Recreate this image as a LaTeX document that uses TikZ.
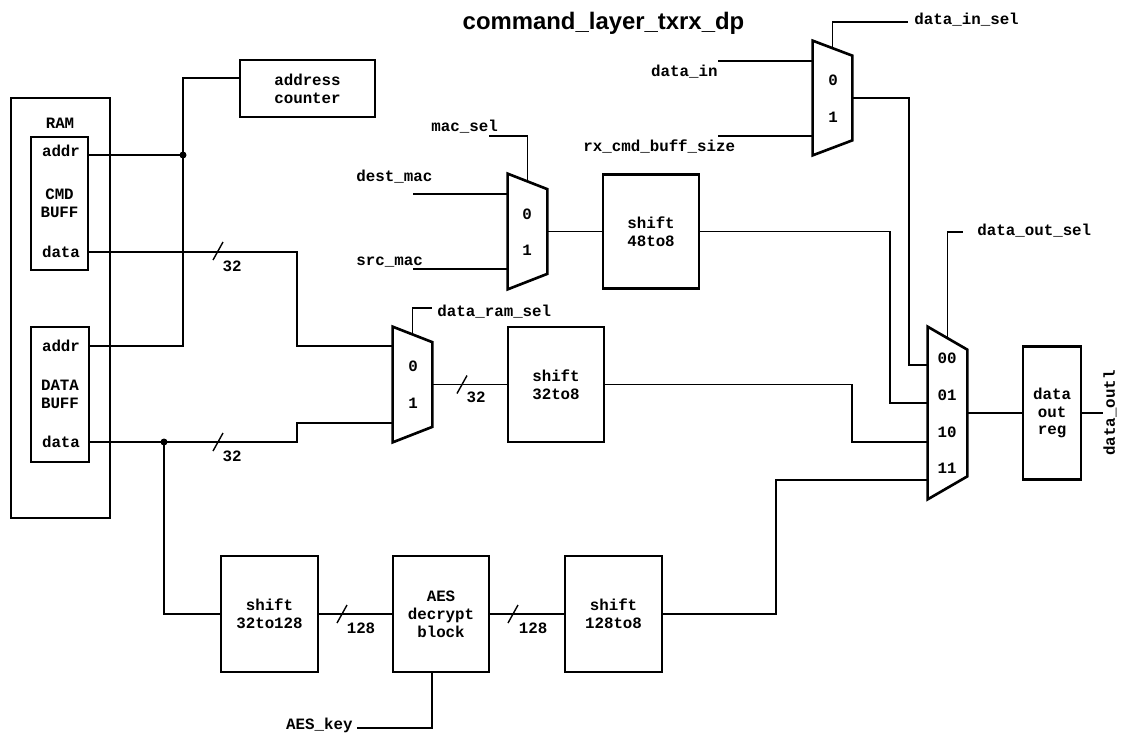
\documentclass[tikz,border=0pt]{standalone}
\usepackage{fontspec}
\setmainfont{Liberation Sans}
\setmonofont{Liberation Mono}
\usepackage{tikz}
\newcommand{\sigfont}{\ttfamily\bfseries\fontsize{9pt}{10.2pt}\selectfont}

\begin{document}
\begin{tikzpicture}[
  x=0.02cm, y=-0.02cm,
  box/.style={draw,line width=1.4pt,align=center,inner sep=0pt,font=\sigfont},
  muxbody/.style={inner sep=0pt,minimum width=0.78cm,minimum height=2.3cm},
  muxline/.style={line width=1.5pt,line join=miter},
  wire/.style={line width=0.8pt},
  lbl/.style={inner sep=0pt,font=\sigfont},
  jdot/.style={circle,fill,inner sep=0pt,minimum size=0.14cm},
  bus/.pic={\draw[wire] (-5,9) -- (5,-9);}
]
\fill[white] (0,0) rectangle (1121,735);
\useasboundingbox (0,0) rectangle (1121,735);

\node[anchor=base,font=\bfseries\fontsize{13.6pt}{16pt}\selectfont] (title) at (603.5,29) {command\_layer\_txrx\_dp};

\node[box,minimum width=1.98cm,minimum height=8.4cm] (ram) at (60.5,308) {};
\node[lbl] (ramlbl) at (60,123) {RAM};
\node[box,minimum width=1.14cm,minimum height=2.66cm] (cmdbuf) at (59.5,203.5) {CMD\\BUFF};
\node[lbl] (cmdaddr) at (61,151) {addr};
\node[lbl] (cmddata) at (61,252) {data};
\node[box,minimum width=1.16cm,minimum height=2.7cm] (databuf) at (60,394.5) {DATA\\BUFF};
\node[lbl] (dataddr) at (61,346) {addr};
\node[lbl] (datdata) at (61,442) {data};
\node[box,minimum width=2.7cm,minimum height=1.14cm] (cnt) at (307.5,88.5) {address\\counter};

\node[muxbody] (mram) at (412.5,384.5) {};
\draw[muxline] (mram.north west) -- (mram.south west) -- ([yshift=0.31cm]mram.south east) -- ([yshift=-0.31cm]mram.north east) -- cycle;
\node[lbl] (mram0) at (413,366) {0};
\node[lbl] (mram1) at (413,403) {1};
\node[muxbody] (mmac) at (527.5,231.5) {};
\draw[muxline] (mmac.north west) -- (mmac.south west) -- ([yshift=0.31cm]mmac.south east) -- ([yshift=-0.31cm]mmac.north east) -- cycle;
\node[lbl] (mmac0) at (527,214) {0};
\node[lbl] (mmac1) at (527,250) {1};
\node[muxbody,minimum height=2.28cm] (min) at (832.5,98) {};
\draw[muxline] (min.north west) -- (min.south west) -- ([yshift=0.3cm]min.south east) -- ([yshift=-0.3cm]min.north east) -- cycle;
\node[lbl] (min0) at (833,80) {0};
\node[lbl] (min1) at (833,117) {1};
\node[muxbody,minimum height=3.44cm] (mout) at (947.5,413) {};
\draw[muxline] (mout.north west) -- (mout.south west) -- ([yshift=0.46cm]mout.south east) -- ([yshift=-0.46cm]mout.north east) -- cycle;
\node[lbl] (mout00) at (947,358) {00};
\node[lbl] (mout01) at (947,395) {01};
\node[lbl] (mout10) at (947,432) {10};
\node[lbl] (mout11) at (947,468) {11};

\node[box,minimum width=1.92cm,minimum height=2.3cm] (s32to8) at (556,384.5) {shift\\32to8};
\node[box,minimum width=1.92cm,minimum height=2.28cm] (s48to8) at (651,231.5) {shift\\48to8};
\node[box,minimum width=1.16cm,minimum height=2.66cm] (dreg) at (1052,413) {data\\out\\reg};
\node[box,minimum width=1.94cm,minimum height=2.32cm] (s32to128) at (269.5,614) {shift\\32to128};
\node[box,minimum width=1.92cm,minimum height=2.32cm] (aes) at (441,614) {AES\\decrypt\\block};
\node[box,minimum width=1.94cm,minimum height=2.32cm] (s128to8) at (613.5,614) {shift\\128to8};

\coordinate (jcmd) at (183,155);
\coordinate (jdat) at (164,442);
\coordinate (mramin0) at (393,346);
\coordinate (mramin1) at (393,423);
\coordinate (macin0) at (508,194);
\coordinate (macin1) at (508,269);
\coordinate (outin00) at (928,365);
\coordinate (outin01) at (928,403);
\coordinate (outin10) at (928,442);
\coordinate (outin11) at (928,480);
\coordinate (din) at (718,61);
\coordinate (rxc) at (718,136);
\coordinate (dmac) at (413,194);
\coordinate (smac) at (413,269);
\coordinate (selram) at (432,308);
\coordinate (selmac) at (489,136);
\coordinate (selin) at (908,22);
\coordinate (selout) at (963,232);
\coordinate (dout) at (1103,413);
\coordinate (key) at (357,728);

\draw[wire] (cmdbuf.east |- jcmd) -- (jcmd);
\draw[wire] (jcmd) |- ([yshift=0.21cm]cnt.west);
\draw[wire] (jcmd) |- (databuf.east |- 0,346);
\draw[wire] (cmdbuf.east |- 0,252) -- (297,252) |- (mramin0);
\draw[wire] (databuf.east |- jdat) -- (297,442) |- (mramin1);
\draw[wire] (jdat) |- (s32to128.west);
\node[jdot] (dotcmd) at (jcmd) {};
\node[jdot] (dotdat) at (jdat) {};
\pic at (218,251) {bus};
\node[lbl] (w32a) at (232,266) {32};
\pic at (218,442) {bus};
\node[lbl] (w32b) at (232,456) {32};

\draw[wire] ([yshift=-0.15cm]mram.north) |- (selram);
\node[lbl,anchor=base west] (ramsel) at (437,316) {data\_ram\_sel};
\draw[wire] (mram.east) -- (s32to8.west);
\pic at (462,384.5) {bus};
\node[lbl] (w32c) at (476,397) {32};
\draw[wire] (s32to8.east) -- (852,384.5) |- (outin10);

\draw[wire] (dmac) -- (macin0);
\draw[wire] (smac) -- (macin1);
\node[lbl,anchor=base west] (destmac) at (356,181) {dest\_mac};
\node[lbl,anchor=base west] (srcmac) at (356,265) {src\_mac};
\draw[wire] (selmac) -| ([yshift=-0.15cm]mmac.north);
\node[lbl,anchor=base west] (macsel) at (431,131) {mac\_sel};
\draw[wire] (mmac.east) -- (s48to8.west);
\draw[wire] (s48to8.east) -- (890,231.5) |- (outin01);

\draw[wire] (din) -- (min.west |- din);
\draw[wire] (rxc) -- (min.west |- rxc);
\node[lbl,anchor=base east] (datain) at (718,76) {data\_in};
\node[lbl,anchor=base west] (rxsize) at (583,151) {rx\_cmd\_buff\_size};
\draw[wire] ([yshift=-0.15cm]min.north) |- (selin);
\node[lbl,anchor=base west] (insel) at (914,24) {data\_in\_sel};
\draw[wire] (min.east) -- (909,98) |- (outin00);

\draw[wire] ([yshift=-0.23cm]mout.north) |- (selout);
\node[lbl,anchor=base west] (outsel) at (977,235) {data\_out\_sel};
\draw[wire] (mout.east) -- (dreg.west);
\draw[wire] (dreg.east) -- (dout);
\node[lbl,rotate=90] (doutlbl) at (1110,413) {data\_outl};

\draw[wire] (s32to128.east) -- (aes.west);
\pic at (342,614) {bus};
\node[lbl] (w128a) at (361,628) {128};
\draw[wire] (aes.east) -- (s128to8.west);
\pic at (513,614) {bus};
\node[lbl] (w128b) at (533,628) {128};
\draw[wire] (s128to8.east) -- (776,614) |- (outin11);
\draw[wire] (key) -| ([xshift=-0.18cm]aes.south);
\node[lbl,anchor=base east] (aeskey) at (353,729) {AES\_key};
\end{tikzpicture}
\end{document}
